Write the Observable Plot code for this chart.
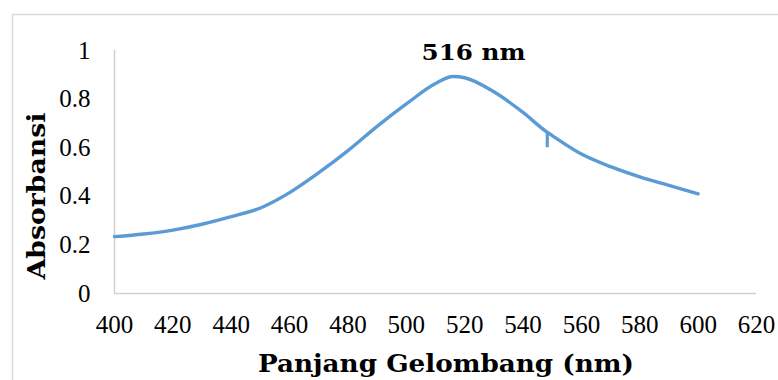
<!DOCTYPE html>
<html>
<head>
<meta charset="utf-8">
<script src="https://cdn.jsdelivr.net/npm/d3@7"></script>
<script src="https://cdn.jsdelivr.net/npm/@observablehq/plot@0.6"></script>
<style>
  html, body { margin: 0; padding: 0; background: #fff; }
  #chart { width: 778px; height: 380px; overflow: hidden; }
</style>
</head>
<body>
<div id="chart"></div>
<script>
const wavelength = [400, 410, 420, 430, 440, 450, 460, 470, 480, 490, 500, 510, 516, 520, 530, 540, 548, 550, 560, 570, 580, 590, 600];
const absorbance = [0.234, 0.245, 0.261, 0.285, 0.316, 0.352, 0.415, 0.497, 0.588, 0.688, 0.78, 0.864, 0.893, 0.888, 0.83, 0.745, 0.666, 0.650, 0.574, 0.522, 0.480, 0.445, 0.410];
const spikeX = [548.3];
const spikeTop = [0.662];
const spikeBottom = [0.600];
const peakLabel = ["516 nm"];
const peakX = [516];
const peakY = [0.893];
const xTicks = [400, 420, 440, 460, 480, 500, 520, 540, 560, 580, 600, 620];
const yTicks = [0, 0.2, 0.4, 0.6, 0.8, 1];
const xTitle = "Panjang Gelombang (nm)";
const yTitle = "Absorbansi";

const series = wavelength.map((w, i) => ({w, a: absorbance[i]}));
const spikes = spikeX.map((x, i) => ({x, y1: spikeBottom[i], y2: spikeTop[i]}));

const blue = "#5B9BD5";
const axisGray = "#D0D0D0";
const serif = "Liberation Serif, Times New Roman, serif";
const boldFont = "DejaVu Serif, serif";

const plot = Plot.plot({
  width: 778,
  height: 380,
  marginLeft: 114,
  marginRight: 22,
  marginTop: 50,
  marginBottom: 87,
  x: {domain: [400, 620], label: null},
  y: {domain: [0, 1], label: null},
  marks: [
    Plot.axisX(xTicks, {tickSize: 0, tickPadding: 22, label: null, tickFormat: d => String(d), fontFamily: serif, fontSize: 25, fill: "#000"}),
    Plot.axisY(yTicks, {tickSize: 0, tickPadding: 24, label: null, tickFormat: d => String(d), fontFamily: serif, fontSize: 25, fill: "#000"}),
    Plot.ruleY([0], {stroke: axisGray, strokeWidth: 1.5}),
    Plot.ruleX([400], {stroke: axisGray, strokeWidth: 1.5}),
    Plot.line(series, {x: "w", y: "a", stroke: blue, strokeWidth: 3.4, curve: "monotone-x"}),
    Plot.ruleX(spikes, {x: "x", y1: "y1", y2: "y2", stroke: blue, strokeWidth: 3.2})
  ]
});

const sx = plot.scale("x"), sy = plot.scale("y");
const svg = d3.select(plot);
svg.insert("rect", ":first-child")
  .attr("x", 12.5).attr("y", 14.5).attr("width", 800).attr("height", 400)
  .attr("fill", "none").attr("stroke", "#D9D9D9").attr("stroke-width", 1.5);

peakLabel.forEach((t, i) => {
  svg.append("text")
    .attr("x", sx.apply(peakX[i]) + 21).attr("y", sy.apply(peakY[i]) - 16)
    .attr("text-anchor", "middle")
    .attr("font-family", boldFont)
    .attr("font-weight", "bold")
    .attr("font-size", 22)
    .attr("textLength", 104).attr("lengthAdjust", "spacingAndGlyphs")
    .attr("fill", "#000")
    .text(t);
});

svg.append("text")
  .attr("x", 446).attr("y", 372)
  .attr("text-anchor", "middle")
  .attr("font-family", boldFont)
  .attr("font-weight", "bold")
  .attr("font-size", 24)
  .attr("textLength", 376).attr("lengthAdjust", "spacingAndGlyphs")
  .attr("fill", "#000")
  .text(xTitle);

svg.append("text")
  .attr("transform", "translate(45,196) rotate(-90)")
  .attr("text-anchor", "middle")
  .attr("font-family", boldFont)
  .attr("font-weight", "bold")
  .attr("font-size", 24)
  .attr("textLength", 167).attr("lengthAdjust", "spacingAndGlyphs")
  .attr("fill", "#000")
  .text(yTitle);

document.getElementById("chart").appendChild(plot);
</script>
</body>
</html>
